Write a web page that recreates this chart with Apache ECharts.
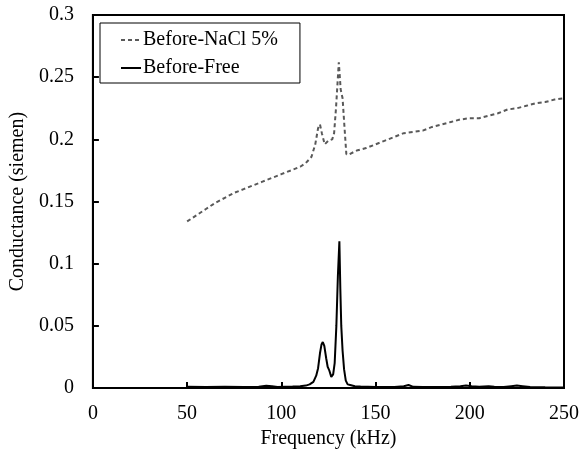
<!DOCTYPE html>
<html><head><meta charset="utf-8">
<script src="https://cdn.jsdelivr.net/npm/echarts@6/dist/echarts.min.js"></script>
<style>html,body{margin:0;padding:0;background:#fff}#c{width:582px;height:454px}</style>
</head><body><div id="c"></div>
<script>
const seriesNames = ['Before-NaCl 5%', 'Before-Free'];
const xTicks = [0, 50, 100, 150, 200, 250];
const yTicks = [0, 0.05, 0.1, 0.15, 0.2, 0.25, 0.3];

const freqNaCl = [50,55,60,65,70,75,80,85,90,95,100,105,110,113,116,118,119.5,120.5,121.5,123,125,127,128,129,130.5,131.5,132.5,133.5,134.5,136,140,145,150,155,160,165,170,175,180,185,190,195,200,205,210,215,220,225,230,235,240,245,250];
const valNaCl  = [0.134,0.139,0.144,0.149,0.153,0.157,0.160,0.163,0.166,0.169,0.172,0.175,0.178,0.181,0.186,0.196,0.209,0.212,0.205,0.196,0.199,0.200,0.205,0.225,0.262,0.240,0.233,0.210,0.188,0.188,0.191,0.193,0.196,0.199,0.202,0.205,0.206,0.207,0.210,0.212,0.214,0.216,0.217,0.217,0.219,0.221,0.224,0.225,0.227,0.229,0.230,0.232,0.233];

const freqFree = [50,60,70,80,88,92,95,98,102,106,110,113,115,117,118.5,119.5,120.5,121.3,122,122.8,123.8,124.6,125.5,126.5,127.5,128.3,129.2,130,130.8,131.3,131.8,132.5,133.3,134.2,135.2,136.5,137.5,139,142,146,150,155,160,165,167.5,170,175,180,185,190,195,198,201,205,210,213,218,222,225,228,232,240,250];
const valFree  = [0.001,0.0008,0.001,0.0008,0.001,0.0018,0.0015,0.0008,0.001,0.0012,0.0015,0.002,0.003,0.005,0.01,0.016,0.028,0.035,0.037,0.034,0.024,0.017,0.014,0.009,0.011,0.02,0.05,0.09,0.118,0.08,0.05,0.03,0.015,0.006,0.003,0.0025,0.003,0.0015,0.0012,0.001,0.0008,0.0008,0.0008,0.0015,0.0025,0.001,0.0008,0.0008,0.0008,0.001,0.0015,0.002,0.0015,0.001,0.0015,0.001,0.0008,0.0015,0.002,0.0015,0.0008,0.0006,0.0005];

const font = 'Liberation Serif';
const fs = 20;
const chart = echarts.init(document.getElementById('c'), null, {renderer: 'canvas'});
chart.setOption({
  animation: false,
  backgroundColor: '#fff',
  textStyle: {fontFamily: font},
  grid: {left: 92, right: 16, top: 15, bottom: 64, show: true, borderColor: '#000', borderWidth: 2, containLabel: false},
  legend: {
    orient: 'vertical', left: 100, top: 23,
    data: seriesNames,
    borderColor: '#000', borderWidth: 1,
    padding: [7, 22, 5, 20],
    itemWidth: 20, itemHeight: 20, itemGap: 8,
    itemStyle: {color: 'rgba(0,0,0,0)', borderWidth: 0, opacity: 0},
    textStyle: {fontFamily: font, fontSize: fs, color: '#000', padding: [0, 0, 0, -3]}
  },
  xAxis: {
    type: 'value', min: xTicks[0], max: xTicks[xTicks.length - 1], interval: 50,
    name: 'Frequency (kHz)', nameLocation: 'middle', nameGap: 38,
    nameTextStyle: {fontFamily: font, fontSize: fs, color: '#000'},
    axisLine: {show: true, lineStyle: {color: '#000', width: 2}},
    axisTick: {show: true, inside: true, length: 6, lineStyle: {color: '#000', width: 2}},
    axisLabel: {fontFamily: font, fontSize: fs, color: '#000', margin: 16},
    splitLine: {show: false}
  },
  yAxis: {
    type: 'value', min: yTicks[0], max: yTicks[yTicks.length - 1], interval: 0.05,
    name: 'Conductance (siemen)', nameLocation: 'middle', nameGap: 64,
    nameTextStyle: {fontFamily: font, fontSize: fs, color: '#000'},
    axisLine: {show: true, lineStyle: {color: '#000', width: 2}},
    axisTick: {show: true, inside: true, length: 6, lineStyle: {color: '#000', width: 2}},
    axisLabel: {fontFamily: font, fontSize: fs, color: '#000', margin: 19},
    splitLine: {show: false}
  },
  series: [
    {
      name: seriesNames[0], type: 'line', symbol: 'none', smooth: false,
      data: freqNaCl.map((f, i) => [f, valNaCl[i]]),
      lineStyle: {color: '#595959', width: 2, type: [4, 3]},
      itemStyle: {color: 'rgba(0,0,0,0)'}
    },
    {
      name: seriesNames[1], type: 'line', symbol: 'none', smooth: false,
      data: freqFree.map((f, i) => [f, valFree[i]]),
      lineStyle: {color: '#000', width: 2},
      itemStyle: {color: 'rgba(0,0,0,0)'}
    }
  ]
});
</script></body></html>
